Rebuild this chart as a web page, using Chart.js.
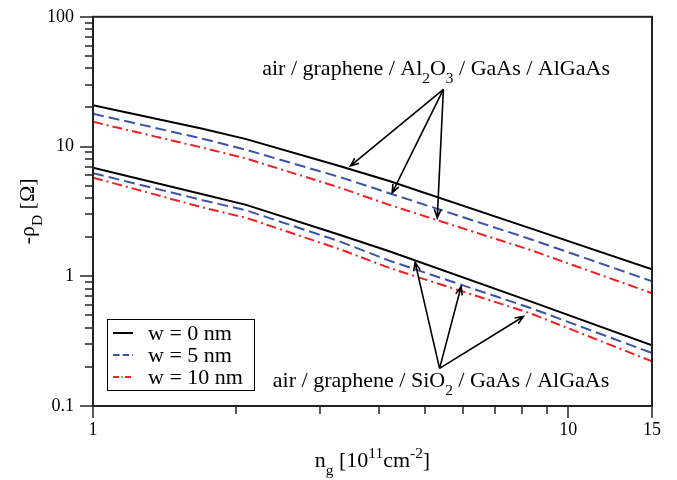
<!DOCTYPE html>
<html>
<head>
<meta charset="utf-8">
<script src="https://cdn.jsdelivr.net/npm/chart.js@4.4.1/dist/chart.umd.min.js"></script>
<style>
  body { margin: 0; background: #fff; }
  canvas { display: block; }
</style>
</head>
<body>
<canvas id="chart" width="677" height="480"></canvas>
<script>
// n_g values (10^11 cm^-2) where the curves were read
const ngValues = [1, 1.7, 2.1, 3.3, 4.2, 8.3, 15];

// -rho_D [Ohm], air / graphene / Al2O3 / GaAs / AlGaAs
const al2o3W0 = [20.8, 13.7, 11.4, 7.08, 5.43, 2.35, 1.13];
const al2o3W5 = [17.9, 11.5, 9.43, 5.83, 4.37, 1.94, 0.915];
const al2o3W10 = [15.5, 9.79, 8.09, 4.83, 3.55, 1.60, 0.74];

// -rho_D [Ohm], air / graphene / SiO2 / GaAs / AlGaAs
const sio2W0 = [6.88, 4.29, 3.55, 2.09, 1.56, 0.643, 0.294];
const sio2W5 = [6.23, 3.86, 3.22, 1.86, 1.32, 0.572, 0.256];
const sio2W10 = [5.76, 3.39, 2.82, 1.62, 1.16, 0.52, 0.221];

const legendLabels = ['w = 0 nm', 'w = 5 nm', 'w = 10 nm'];

const xMajorTicks = [1, 10, 15];
const xMinorTicks = [2, 3, 4, 5, 6, 7, 8, 9];
const yMajorTicks = [0.1, 1, 10, 100];
const yTickLabels = ['0.1', '1', '10', '100'];
const yMinorTicks = [0.2, 0.3, 0.4, 0.5, 0.6, 0.7, 0.8, 0.9,
    2, 3, 4, 5, 6, 7, 8, 9,
    20, 30, 40, 50, 60, 70, 80, 90];

// annotation arrows, in data coordinates
const topArrowFrom = [5.46, 27.6];
const topArrowTo = [[3.48, 7.08], [4.26, 4.39], [5.30, 2.82]];
const botArrowFrom = [5.36, 0.195];
const botArrowTo = [[4.76, 1.28], [5.95, 0.834], [8.05, 0.49]];

const SERIF = '"Liberation Serif", "Times New Roman", serif';
const black = '#000000';
const blue = '#3a55a8';
const red = '#ee2222';

const styles = [
    { color: black, dash: [] },
    { color: blue, dash: [11, 5] },
    { color: red, dash: [10, 4, 2, 4] }
];

function pts(ys) {
    return ngValues.map((x, i) => ({ x: x, y: ys[i] }));
}

function makeSet(label, ys, s) {
    return {
        label: label,
        data: pts(ys),
        borderColor: s.color,
        borderDash: s.dash,
        borderWidth: 2,
        pointRadius: 0,
        showLine: true,
        fill: false,
        tension: 0
    };
}

// text with sub / superscripts; parts = [[text, 'n'|'sub'|'sup'], ...]
function richWidth(ctx, parts, size) {
    let w = 0;
    parts.forEach(p => {
        const s = p[1] === 'n' ? size : size * 0.7;
        ctx.font = s + 'px ' + SERIF;
        w += ctx.measureText(p[0]).width;
    });
    return w;
}

function drawRich(ctx, parts, x, y, size) {
    ctx.textBaseline = 'alphabetic';
    ctx.textAlign = 'left';
    parts.forEach(p => {
        let s = size, dy = 0;
        if (p[1] === 'sub') { s = size * 0.7; dy = size * 0.36; }
        if (p[1] === 'sup') { s = size * 0.7; dy = -size * 0.4; }
        ctx.font = s + 'px ' + SERIF;
        ctx.fillText(p[0], x, y + dy);
        x += ctx.measureText(p[0]).width;
    });
}

function arrow(ctx, x0, y0, x1, y1) {
    const a = Math.atan2(y1 - y0, x1 - x0);
    const len = 9, spread = 0.38;
    ctx.beginPath();
    ctx.moveTo(x0, y0);
    ctx.lineTo(x1, y1);
    ctx.moveTo(x1 - len * Math.cos(a - spread), y1 - len * Math.sin(a - spread));
    ctx.lineTo(x1, y1);
    ctx.lineTo(x1 - len * Math.cos(a + spread), y1 - len * Math.sin(a + spread));
    ctx.stroke();
}

function hTick(ctx, x, py, len) {
    ctx.beginPath();
    ctx.moveTo(x, py);
    ctx.lineTo(x - len, py);
    ctx.stroke();
}

function vTick(ctx, px, y, len) {
    ctx.beginPath();
    ctx.moveTo(px, y);
    ctx.lineTo(px, y + len);
    ctx.stroke();
}

const extras = {
    id: 'extras',
    afterDraw(chart) {
        const ctx = chart.ctx;
        const xs = chart.scales.x, ys = chart.scales.y;
        const area = chart.chartArea;
        ctx.save();

        // ticks
        ctx.strokeStyle = black;
        ctx.lineWidth = 1.3;
        xMajorTicks.forEach(v => vTick(ctx, Math.round(xs.getPixelForValue(v)), area.bottom, 12));
        xMinorTicks.forEach(v => vTick(ctx, Math.round(xs.getPixelForValue(v)), area.bottom, 8));
        yMajorTicks.forEach(v => hTick(ctx, area.left, Math.round(ys.getPixelForValue(v)), 13));
        yMinorTicks.forEach(v => hTick(ctx, area.left, Math.round(ys.getPixelForValue(v)), 8));

        // frame
        ctx.strokeStyle = '#222';
        ctx.lineWidth = 2;
        ctx.strokeRect(area.left, area.top, area.right - area.left, area.bottom - area.top);

        // arrows
        ctx.strokeStyle = black;
        ctx.lineWidth = 1.6;
        const P = d => [xs.getPixelForValue(d[0]), ys.getPixelForValue(d[1])];
        [[topArrowFrom, topArrowTo], [botArrowFrom, botArrowTo]].forEach(g => {
            const f = P(g[0]);
            g[1].forEach(t => {
                const e = P(t);
                arrow(ctx, f[0], f[1], e[0], e[1]);
            });
        });

        // annotation texts
        ctx.fillStyle = black;
        drawRich(ctx, [['air / graphene / Al', 'n'], ['2', 'sub'], ['O', 'n'], ['3', 'sub'], [' / GaAs / AlGaAs', 'n']],
            xs.getPixelForValue(2.27), ys.getPixelForValue(35.5), 22);
        drawRich(ctx, [['air / graphene / SiO', 'n'], ['2', 'sub'], [' / GaAs / AlGaAs', 'n']],
            xs.getPixelForValue(2.39), ys.getPixelForValue(0.1396), 22);

        // legend
        const lx = area.left + 14, ly = area.bottom - 87;
        ctx.lineWidth = 1;
        ctx.strokeStyle = black;
        ctx.strokeRect(lx + 0.5, ly + 0.5, 147, 71);
        legendLabels.forEach((lab, i) => {
            const yy = ly + 14 + i * 22;
            ctx.strokeStyle = styles[i].color;
            ctx.lineWidth = 2;
            ctx.setLineDash(styles[i].dash.map(d => d * 0.6));
            ctx.beginPath();
            ctx.moveTo(lx + 6, yy);
            ctx.lineTo(lx + 26, yy);
            ctx.stroke();
            ctx.setLineDash([]);
            ctx.fillStyle = black;
            ctx.font = '22px ' + SERIF;
            ctx.textBaseline = 'alphabetic';
            ctx.fillText(lab, lx + 41, yy + 7);
        });

        // axis titles
        const xt = [['n', 'n'], ['g', 'sub'], [' [10', 'n'], ['11', 'sup'], ['cm', 'n'], ['-2', 'sup'], [']', 'n']];
        const xw = richWidth(ctx, xt, 22);
        drawRich(ctx, xt, (area.left + area.right) / 2 - xw / 2, 467, 22);

        const yt = [['-\u03c1', 'n'], ['D', 'sub'], [' [\u03a9]', 'n']];
        const yw = richWidth(ctx, yt, 22);
        ctx.translate(34, (area.top + area.bottom) / 2);
        ctx.rotate(-Math.PI / 2);
        drawRich(ctx, yt, -yw / 2, 0, 22);

        ctx.restore();
    }
};

new Chart(document.getElementById('chart'), {
    type: 'scatter',
    data: {
        datasets: [
            makeSet(legendLabels[0], al2o3W0, styles[0]),
            makeSet(legendLabels[1], al2o3W5, styles[1]),
            makeSet(legendLabels[2], al2o3W10, styles[2]),
            makeSet(legendLabels[0] + ' SiO2', sio2W0, styles[0]),
            makeSet(legendLabels[1] + ' SiO2', sio2W5, styles[1]),
            makeSet(legendLabels[2] + ' SiO2', sio2W10, styles[2])
        ]
    },
    options: {
        responsive: false,
        animation: false,
        layout: { padding: { top: 15, right: 25, left: 0, bottom: 0 } },
        plugins: {
            legend: { display: false },
            tooltip: { enabled: false }
        },
        scales: {
            x: {
                type: 'logarithmic',
                min: 1,
                max: 15,
                afterBuildTicks: s => { s.ticks = xMajorTicks.map(v => ({ value: v })); },
                afterFit: s => { s.height = 74; },
                ticks: {
                    autoSkip: false,
                    maxRotation: 0,
                    padding: 1,
                    color: black,
                    font: { family: SERIF, size: 18 },
                    callback: v => String(v)
                },
                grid: {
                    drawOnChartArea: false,
                    tickLength: 12,
                    tickColor: 'rgba(0,0,0,0)'
                },
                border: { color: '#222', width: 2 }
            },
            y: {
                type: 'logarithmic',
                min: 0.1,
                max: 100,
                afterBuildTicks: s => { s.ticks = yMajorTicks.map(v => ({ value: v })); },
                afterFit: s => { s.width = 93; },
                ticks: {
                    autoSkip: false,
                    padding: 6,
                    color: black,
                    font: { family: SERIF, size: 18 },
                    callback: v => {
                        const i = yMajorTicks.indexOf(v);
                        return i >= 0 ? yTickLabels[i] : '';
                    }
                },
                grid: {
                    drawOnChartArea: false,
                    tickLength: 13,
                    tickColor: 'rgba(0,0,0,0)'
                },
                border: { color: '#222', width: 2 }
            }
        }
    },
    plugins: [extras]
});
</script>
</body>
</html>
